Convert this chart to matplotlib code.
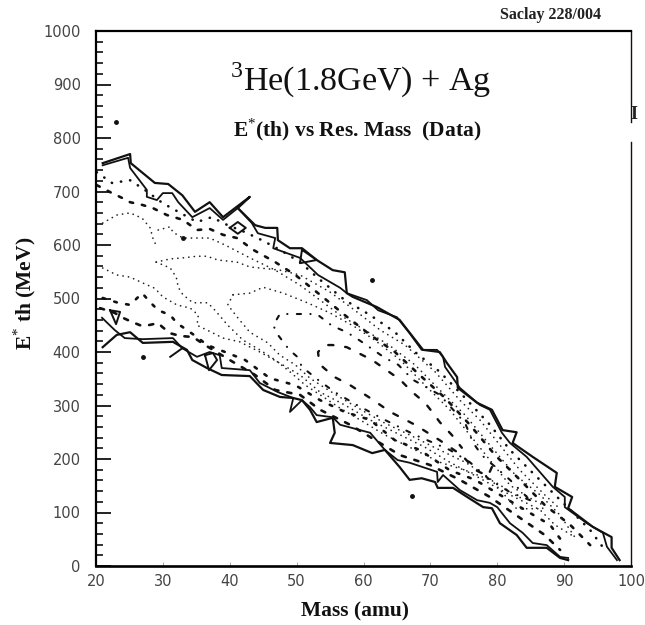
#!/usr/bin/env python3
import matplotlib
matplotlib.use('Agg')
import matplotlib.pyplot as plt

# contours: mass (amu), E*th (MeV)
upper_out_m = [21.0, 25.1, 25.2, 28.8, 30.8, 32.9, 34.8, 37.0, 39.0, 43.0, 41.2, 43.8, 45.3, 47.1, 47.2, 49.0, 50.8, 53.0, 55.4, 57.2, 57.5, 58.4, 62.0, 65.4, 67.4, 68.9, 71.4, 72.5, 74.0, 74.1, 77.0, 79.2, 80.8, 82.9, 82.3, 85.3, 88.9, 88.6, 91.2, 90.6, 94.3, 97.1, 97.1, 98.3]
upper_out_e = [753, 770, 753, 716, 714, 693, 662, 680, 652, 690, 669, 637, 632, 632, 609, 594, 594, 572, 553, 549, 510, 503, 484, 460, 428, 404, 400, 379, 353, 333, 305, 292, 254, 250, 230, 204, 174, 148, 129, 108, 73, 54, 34, 11]
upper_in_m = [21.0, 24.8, 25.1, 27.6, 27.6, 29.1, 30.0, 31.4, 32.3, 34.4, 37.0, 39.0, 41.2, 43.3, 44.2, 46.8, 46.5, 50.5, 53.2, 56.5, 57.5, 60.5, 62.2, 65.0, 66.9, 68.7, 71.0, 71.9, 72.2, 74.4, 77.4, 78.9, 80.7, 81.9, 84.4, 88.3, 90.1, 90.1, 93.4, 95.8, 96.4, 97.9]
upper_in_e = [749, 763, 744, 703, 690, 684, 697, 697, 680, 652, 669, 647, 669, 641, 622, 613, 594, 576, 544, 520, 510, 497, 478, 465, 435, 404, 404, 391, 372, 333, 301, 292, 249, 230, 204, 148, 129, 110, 80, 62, 36, 11]
lower_out_m = [21.0, 23.1, 25.1, 27.0, 31.5, 33.6, 34.4, 36.6, 38.8, 43.0, 45.0, 47.5, 49.5, 50.8, 52.0, 53.0, 55.4, 55.7, 55.0, 58.4, 61.3, 63.2, 65.4, 66.9, 68.7, 70.7, 71.1, 73.4, 75.5, 77.9, 79.2, 80.4, 82.9, 84.4, 87.4, 89.4, 90.6]
lower_out_e = [409, 432, 437, 417, 419, 404, 385, 370, 357, 355, 329, 316, 314, 310, 292, 269, 277, 249, 230, 226, 211, 217, 185, 161, 164, 157, 146, 146, 129, 110, 108, 80, 58, 34, 34, 15, 11]
lower_in_m = [20.9, 22.8, 24.3, 27.0, 31.5, 32.9, 35.1, 37.0, 38.5, 38.8, 43.0, 44.5, 47.2, 49.5, 49.0, 50.8, 52.0, 53.0, 55.4, 56.5, 61.0, 63.2, 65.1, 66.9, 71.0, 71.1, 71.9, 74.4, 77.0, 78.9, 80.0, 81.9, 83.8, 85.3, 87.4, 89.4, 90.6]
lower_in_e = [464, 441, 426, 424, 426, 407, 391, 400, 394, 370, 366, 342, 325, 314, 288, 310, 297, 282, 278, 264, 249, 217, 198, 193, 176, 157, 170, 142, 123, 118, 110, 80, 62, 43, 39, 17, 15]

u1_m = [20.1, 22.4, 25.1, 27.3, 30.0, 32.6, 35.1, 37.3, 39.7, 42.3, 44.8, 47.5, 50.5, 53.5, 57.2, 61.0, 64.7, 67.7, 71.4, 75.2, 78.9, 81.9, 84.9, 87.9, 90.9, 93.9, 96.1]
u1_e = [736, 716, 721, 703, 678, 660, 643, 652, 637, 624, 609, 591, 568, 535, 497, 469, 437, 400, 363, 314, 264, 217, 179, 142, 105, 67, 30]
u2_m = [20.1, 22.4, 23.9, 25.1, 26.9, 28.5, 30.6, 33.0, 35.1, 37.0, 39.0, 41.1, 43.5, 46.8, 49.8, 53.5, 57.2, 61.0, 64.7, 68.4, 72.2, 75.9, 79.7, 83.4, 87.1, 90.9, 93.9]
u2_e = [712, 697, 688, 680, 675, 669, 656, 647, 628, 630, 619, 613, 591, 568, 544, 507, 469, 432, 400, 357, 314, 264, 207, 161, 114, 77, 39]
u3a_m = [21.0, 23.1, 25.1, 26.9, 28.1, 28.5, 29.1]
u3a_e = [641, 656, 660, 650, 632, 613, 596]
u3b_m = [29.3, 31.1, 31.5, 33.0, 35.1, 37.0, 39.3, 43.0, 46.8, 50.5, 56.5, 60.2, 63.8, 67.7, 71.4, 75.2, 78.9, 82.7, 86.4, 89.4, 91.6]
u3b_e = [628, 634, 624, 613, 613, 613, 600, 576, 553, 525, 469, 441, 413, 376, 329, 282, 226, 170, 133, 95, 54]
u4_m = [29.0, 31.1, 33.0, 35.1, 36.6, 38.2, 41.1, 43.0, 47.5, 50.5, 55.0, 58.7, 62.5, 66.2, 70.7, 74.4, 77.4, 80.4, 83.4, 87.1, 89.1]
u4_e = [568, 574, 576, 579, 579, 572, 568, 559, 553, 544, 512, 478, 441, 413, 363, 310, 273, 226, 179, 133, 110]
u5_m = [40.5, 43.0, 45.0, 48.0, 51.6, 55.0, 58.7, 61.7, 65.5, 69.2, 72.9, 75.9, 78.9, 81.9, 84.9, 86.8, 86.8]
u5_e = [507, 510, 521, 510, 492, 473, 447, 422, 385, 338, 292, 245, 198, 151, 127, 114, 107]
l0_m = [20.6, 21.6, 22.8, 24.0, 25.4, 26.6, 27.8, 29.3, 29.9, 31.1, 32.6, 34.5, 36.3, 40.0, 43.8, 46.8, 50.5, 53.5, 58.0, 61.0, 65.5, 69.9, 74.4, 78.9, 83.4, 87.1, 89.4]
l0_e = [482, 478, 473, 464, 456, 450, 450, 454, 447, 435, 430, 428, 413, 385, 357, 329, 320, 292, 264, 241, 207, 189, 161, 129, 90, 58, 30]
l1_m = [21.0, 23.3, 25.1, 26.9, 28.1, 29.3, 31.1, 32.1, 33.6, 35.1, 36.6, 39.3, 42.3, 46.0, 49.8, 53.5, 57.2, 61.0, 64.7, 68.4, 72.9, 76.7, 80.4, 84.1, 87.9, 90.1]
l1_e = [501, 492, 488, 510, 493, 478, 469, 454, 441, 428, 413, 400, 385, 351, 338, 310, 288, 273, 235, 217, 179, 161, 133, 105, 77, 39]
l2_m = [21.0, 23.1, 25.1, 27.0, 28.8, 30.0, 32.1, 34.1, 35.3, 35.1, 36.6, 39.0, 41.5, 44.5, 47.5, 50.5, 53.5, 57.2, 61.0, 65.5, 69.2, 72.9, 77.4, 81.9, 86.4, 88.6, 91.6]
l2_e = [557, 544, 540, 529, 519, 503, 488, 482, 469, 450, 441, 426, 419, 400, 379, 357, 325, 301, 273, 245, 222, 194, 164, 133, 105, 77, 54]
l3_m = [29.0, 31.1, 32.0, 32.3, 33.0, 34.5, 36.7, 37.8, 39.7, 42.0, 44.5, 46.8, 49.0, 51.3, 53.5, 56.5, 59.5, 63.2, 66.9, 71.4, 75.2, 79.7, 83.4, 83.7]
l3_e = [568, 557, 540, 521, 507, 492, 492, 478, 450, 422, 404, 385, 363, 338, 320, 295, 273, 245, 222, 194, 179, 157, 127, 136]
l4_m = [40.5, 39.7, 41.2, 43.0, 45.7, 47.5, 49.8, 52.0, 54.2, 57.2, 60.2, 63.2, 66.9, 70.7, 75.2, 78.9, 82.9, 86.8]
l4_e = [507, 488, 464, 437, 417, 394, 376, 351, 333, 310, 288, 267, 245, 221, 194, 164, 107, 107]
loop_a_m = [84.9, 81.9, 78.9, 75.9, 72.9, 67.7, 63.2, 59.0, 55.7, 53.2, 50.8, 50.1, 48.9, 47.2, 46.5, 47.5, 49.3, 51.3, 53.0, 55.3, 57.5, 59.5, 63.2, 65.2, 67.4, 71.4, 75.2, 76.4, 77.7, 81.9, 84.9]
loop_a_e = [123, 138, 161, 194, 217, 245, 273, 301, 325, 348, 372, 391, 404, 432, 450, 471, 471, 471, 471, 449, 437, 421, 389, 376, 348, 320, 267, 230, 207, 161, 123]
loop_b_m = [79.2, 78.6, 76.8, 74.7, 71.4, 67.7, 64.0, 61.0, 58.0, 55.7, 53.9, 53.3, 53.2, 54.2, 55.4, 57.5, 61.3, 65.5, 67.3, 69.2, 70.4, 71.4, 73.2, 74.7]
loop_b_e = [185, 168, 179, 207, 235, 264, 288, 314, 338, 353, 372, 389, 400, 413, 413, 409, 385, 348, 325, 305, 286, 269, 245, 221]

# small closed bits and spurs next to the edge contours
small_m = [[22.1, 23.6, 23.0, 22.1], [36.3, 37.5, 38.1, 36.9, 36.3], [31.1, 32.9], [50.8, 50.5, 53.0, 50.8], [40.0, 41.2, 42.4, 41.2, 40.0]]
small_e = [[478, 475, 452, 478], [394, 398, 385, 366, 394], [391, 407], [591, 566, 572, 591], [632, 643, 632, 621, 632]]
stray_m = [23.0, 27.0, 61.3, 67.3, 33.0]
stray_e = [830, 391, 535, 131, 613]

x_ticks = [20, 30, 40, 50, 60, 70, 80, 90, 100]
y_ticks = [0, 100, 200, 300, 400, 500, 600, 700, 800, 900, 1000]
y_minor = [e for e in range(0, 1001, 20)]

plt.rcParams['mathtext.fontset'] = 'custom'
plt.rcParams['mathtext.rm'] = 'Liberation Serif'
plt.rcParams['mathtext.bf'] = 'Liberation Serif:bold'

fig = plt.figure(figsize=(6.45, 6.25), dpi=100)
ax = fig.add_axes([96 / 645, 59 / 625, 535 / 645, 535 / 625])

# edge contours
ax.plot(upper_out_m, upper_out_e, color='#111111', lw=1.6)
ax.plot(upper_in_m, upper_in_e, color='#111111', lw=1.3)
ax.plot(lower_out_m, lower_out_e, color='#111111', lw=1.6)
ax.plot(lower_in_m, lower_in_e, color='#111111', lw=1.3)
for sm, se in zip(small_m, small_e):
    ax.plot(sm, se, color='#111111', lw=1.4)

# inner contours
heavy = dict(color='#111111', lw=1.9, dash_capstyle='round', dash_joinstyle='round')
light = dict(color='#222222', lw=1.2, dash_capstyle='round')
ax.plot(u1_m, u1_e, dashes=(0.1, 3.4), **heavy)
ax.plot(u2_m, u2_e, dashes=(1.3, 3.4), **heavy)
ax.plot(l0_m, l0_e, dashes=(1.6, 3.4), **heavy)
ax.plot(l1_m, l1_e, dashes=(1.0, 3.6), **heavy)
for cm, ce in [(u3a_m, u3a_e), (u3b_m, u3b_e), (u4_m, u4_e), (u5_m, u5_e),
               (l2_m, l2_e), (l3_m, l3_e), (l4_m, l4_e)]:
    ax.plot(cm, ce, dashes=(0.1, 3.2), **light)
ax.plot(loop_a_m, loop_a_e, dashes=(2.0, 4.5, 0.1, 4.5), color='#111111', lw=1.5, dash_capstyle='round')
ax.plot(loop_b_m, loop_b_e, dashes=(2.2, 5.0), color='#111111', lw=1.7, dash_capstyle='round')
ax.plot(stray_m, stray_e, ls='none', marker='o', ms=2.5, color='#111111')

ax.set_xlim(20, 100)
ax.set_ylim(0, 1000)
ax.set_xticks(x_ticks)
ax.set_yticks(y_ticks)
ax.set_yticks(y_minor, minor=True)
ax.tick_params(axis='y', which='major', direction='in', length=11, width=1.3, labelsize=10.5,
               pad=11, labelcolor='#444444', color='#111111')
ax.tick_params(axis='y', which='minor', direction='in', length=5, width=1.2, color='#111111')
ax.tick_params(axis='x', which='major', direction='in', length=3, width=0.6, labelsize=10.5,
               pad=6, labelcolor='#444444', color='#999999')

ax.spines['left'].set_linewidth(1.6)
ax.spines['bottom'].set_linewidth(1.9)
ax.spines['top'].set_linewidth(1.6)
ax.spines['right'].set_visible(False)
# right frame has a gap beside the stray mark
ax.plot([1, 1], [0, 0.793], transform=ax.transAxes, color='#111111', lw=1.0, clip_on=False)
ax.plot([1, 1], [0.83, 1], transform=ax.transAxes, color='#111111', lw=1.0, clip_on=False)

fig.text(361 / 645, 1 - 80 / 625, '$^{3}$He(1.8GeV) + Ag', family='Liberation Serif', fontsize=24.5,
         ha='center', va='center', color='#111111')
fig.text(357 / 645, 1 - 130 / 625, r'E$^{*}$(th) vs Res. Mass  (Data)', family='Liberation Serif', fontsize=15.5,
         fontweight='bold', ha='center', va='center', color='#111111')
fig.text(551 / 645, 1 - 15 / 625, 'Saclay 228/004', family='Liberation Serif', fontsize=11.5,
         fontweight='bold', ha='center', va='center', color='#222222')
fig.text(634 / 645, 1 - 115 / 625, 'I', family='Liberation Serif', fontsize=13,
         fontweight='bold', ha='center', va='center', color='#222222')
fig.text(25 / 645, 1 - 293 / 625, r'E$^{*}$ th (MeV)', family='Liberation Serif', fontsize=15.5,
         fontweight='bold', rotation=90, ha='center', va='center', color='#111111')
fig.text(355 / 645, 1 - 611 / 625, 'Mass (amu)', family='Liberation Serif', fontsize=15.5,
         fontweight='bold', ha='center', va='center', color='#111111')

fig.savefig('out.png', dpi=100)
